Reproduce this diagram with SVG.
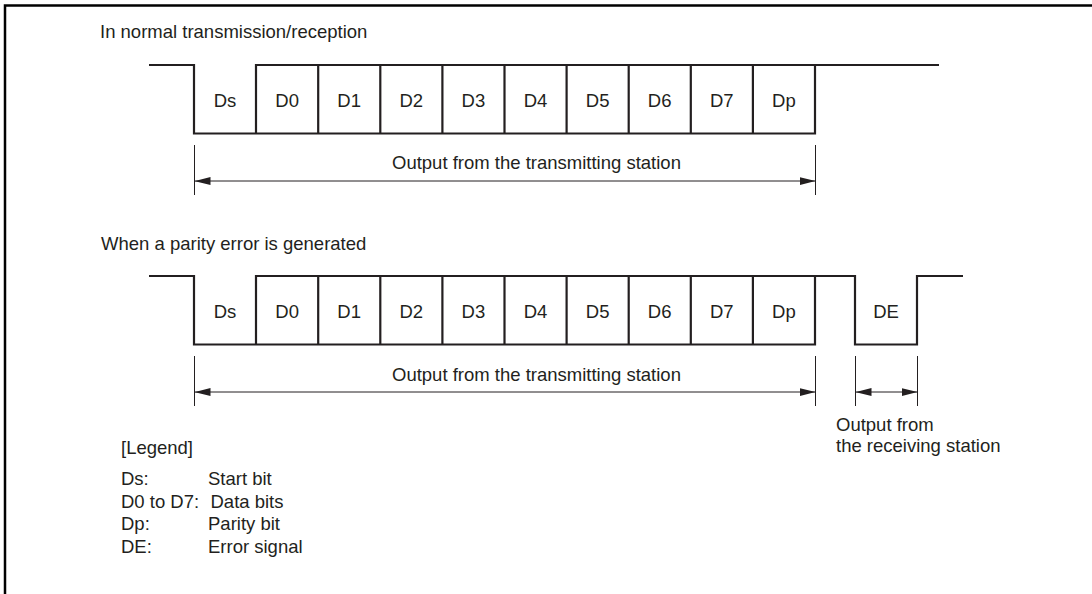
<svg xmlns="http://www.w3.org/2000/svg" width="1092" height="594" viewBox="0 0 1092 594">
<defs>
<style>
text{font-family:"Liberation Sans",Arial,sans-serif;font-size:18.5px;fill:#231f20}
.lbl{text-anchor:middle}
.wave{fill:none;stroke:#231f20;stroke-width:2.2;stroke-linejoin:miter}
.tick{stroke:#231f20;stroke-width:1}
.dim{stroke:#231f20;stroke-width:1}
.frame{fill:none;stroke:#000;stroke-width:2.5}
</style>
<marker id="ah" viewBox="0 0 16 8" refX="16" refY="4" markerWidth="16" markerHeight="8" markerUnits="userSpaceOnUse" orient="auto-start-reverse">
<path d="M0,0 L16,4 L0,8 Z" fill="#231f20"/>
</marker>
</defs>
<rect width="1092" height="594" fill="#fff"/>
<path class="frame" d="M5,594 V5.5 H1092"/>

<g id="normal">
<text x="100" y="38">In normal transmission/reception</text>
<path class="wave" d="M149,65 H194 V133.5 H815 V65 H939 M256,133.5 V65 H815 M318.2,65 V133.5 M380.3,65 V133.5 M442.4,65 V133.5 M504.5,65 V133.5 M566.6,65 V133.5 M628.7,65 V133.5 M690.8,65 V133.5 M752.9,65 V133.5"/>
<text class="lbl" x="225" y="107">Ds</text>
<text class="lbl" x="287.1" y="107">D0</text>
<text class="lbl" x="349.2" y="107">D1</text>
<text class="lbl" x="411.3" y="107">D2</text>
<text class="lbl" x="473.4" y="107">D3</text>
<text class="lbl" x="535.5" y="107">D4</text>
<text class="lbl" x="597.6" y="107">D5</text>
<text class="lbl" x="659.7" y="107">D6</text>
<text class="lbl" x="721.8" y="107">D7</text>
<text class="lbl" x="783.9" y="107">Dp</text>
<text x="392" y="169">Output from the transmitting station</text>
</g>

<g id="parity">
<text x="101" y="250">When a parity error is generated</text>
<path class="wave" d="M149,276 H194 V344.5 H815 V276 H855 V344.5 H917 V276 H963 M256,344.5 V276 H815 M318.2,276 V344.5 M380.3,276 V344.5 M442.4,276 V344.5 M504.5,276 V344.5 M566.6,276 V344.5 M628.7,276 V344.5 M690.8,276 V344.5 M752.9,276 V344.5"/>
<text class="lbl" x="225" y="318">Ds</text>
<text class="lbl" x="287.1" y="318">D0</text>
<text class="lbl" x="349.2" y="318">D1</text>
<text class="lbl" x="411.3" y="318">D2</text>
<text class="lbl" x="473.4" y="318">D3</text>
<text class="lbl" x="535.5" y="318">D4</text>
<text class="lbl" x="597.6" y="318">D5</text>
<text class="lbl" x="659.7" y="318">D6</text>
<text class="lbl" x="721.8" y="318">D7</text>
<text class="lbl" x="783.9" y="318">Dp</text>
<text class="lbl" x="886" y="318">DE</text>
<text x="392" y="381">Output from the transmitting station</text>
<text x="836" y="431">Output from</text>
<text x="836" y="452">the receiving station</text>
</g>

<g id="connectors">
<line class="tick" x1="194.5" y1="145" x2="194.5" y2="195"/>
<line class="tick" x1="815.5" y1="145" x2="815.5" y2="195"/>
<line class="dim" x1="194.5" y1="181" x2="815.5" y2="181" marker-start="url(#ah)" marker-end="url(#ah)"/>
<line class="tick" x1="194.5" y1="356" x2="194.5" y2="406"/>
<line class="tick" x1="815.5" y1="356" x2="815.5" y2="406"/>
<line class="dim" x1="194.5" y1="392" x2="815.5" y2="392" marker-start="url(#ah)" marker-end="url(#ah)"/>
<line class="tick" x1="855.5" y1="356" x2="855.5" y2="406"/>
<line class="tick" x1="917.5" y1="356" x2="917.5" y2="406"/>
<line class="dim" x1="855.5" y1="392" x2="917.5" y2="392" marker-start="url(#ah)" marker-end="url(#ah)"/>
</g>

<g id="legend">
<text x="121" y="454">[Legend]</text>
<text x="121" y="485">Ds:</text>
<text x="208" y="485">Start bit</text>
<text x="121" y="507.5">D0 to D7:</text>
<text x="210.5" y="507.5">Data bits</text>
<text x="121" y="530">Dp:</text>
<text x="208" y="530">Parity bit</text>
<text x="121" y="552.5">DE:</text>
<text x="208" y="552.5">Error signal</text>
</g>
</svg>
